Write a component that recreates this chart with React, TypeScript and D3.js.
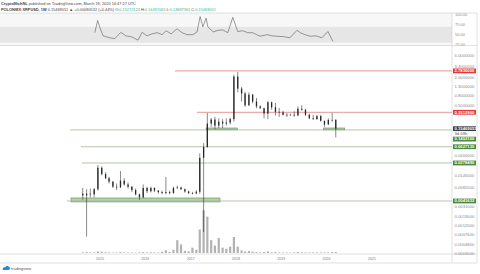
import React from "react";
import * as d3 from "d3";

// ---------- data ----------
const months = [
  "2014-08","2014-09","2014-10","2014-11","2014-12",
  "2015-01","2015-02","2015-03","2015-04","2015-05","2015-06","2015-07","2015-08","2015-09","2015-10","2015-11","2015-12",
  "2016-01","2016-02","2016-03","2016-04","2016-05","2016-06","2016-07","2016-08","2016-09","2016-10","2016-11","2016-12",
  "2017-01","2017-02","2017-03","2017-04","2017-05","2017-06","2017-07","2017-08","2017-09","2017-10","2017-11","2017-12",
  "2018-01","2018-02","2018-03","2018-04","2018-05","2018-06","2018-07","2018-08","2018-09","2018-10","2018-11","2018-12",
  "2019-01","2019-02","2019-03","2019-04","2019-05","2019-06","2019-07","2019-08","2019-09","2019-10","2019-11","2019-12",
  "2020-01","2020-02","2020-03",
];
const opens = [
  0.0060,0.0055,0.0060,0.0058,0.0075,
  0.0220,0.0160,0.0130,0.0110,0.0085,0.0082,0.0115,0.0095,0.0085,0.0072,0.0058,0.0050,
  0.0080,0.0068,0.0080,0.0070,0.0065,0.0062,0.0065,0.0062,0.0080,0.0082,0.0075,0.0067,
  0.0062,0.0061,0.0066,0.0360,0.0620,0.2000,0.2450,0.1800,0.2200,0.2000,0.2100,0.2500,
  2.1000,1.1500,0.9000,0.5000,0.8500,0.6000,0.4700,0.4300,0.3300,0.5800,0.4500,0.3600,
  0.3500,0.3100,0.3100,0.3100,0.3000,0.4200,0.4000,0.3100,0.2600,0.2500,0.2900,0.2300,
  0.1900,0.2400,0.2400,
];
const highs = [
  0.0080,0.0075,0.0078,0.0080,0.0252,
  0.0235,0.0175,0.0140,0.0112,0.0100,0.0186,0.0130,0.0105,0.0088,0.0078,0.0060,0.0095,
  0.0085,0.0085,0.0082,0.0072,0.0070,0.0138,0.0070,0.0085,0.0090,0.0085,0.0078,0.0070,
  0.0066,0.0072,0.0450,0.0750,0.3390,0.2640,0.2800,0.2600,0.2500,0.2600,0.2700,2.3000,
  2.6500,1.2500,0.9800,0.9500,0.8800,0.7200,0.5000,0.4400,0.6200,0.6000,0.5600,0.4400,
  0.3800,0.3400,0.3300,0.3700,0.4700,0.5000,0.4200,0.3300,0.3100,0.3100,0.3100,0.2300,
  0.2600,0.3400,0.2500,
];
const lows = [
  0.0045,0.0007,0.0050,0.0050,0.0070,
  0.0150,0.0125,0.0100,0.0080,0.0072,0.0080,0.0090,0.0078,0.0065,0.0055,0.0044,0.0048,
  0.0062,0.0064,0.0065,0.0060,0.0058,0.0058,0.0058,0.0060,0.0075,0.0072,0.0063,0.0059,
  0.0058,0.0058,0.0060,0.00088,0.0600,0.1680,0.1500,0.1600,0.1600,0.1800,0.1900,0.2200,
  0.9500,0.6000,0.4600,0.4800,0.5500,0.4300,0.4200,0.2600,0.2500,0.4000,0.3000,0.2800,
  0.3000,0.2800,0.3000,0.2800,0.2900,0.3800,0.2900,0.2500,0.2400,0.2400,0.2200,0.1700,
  0.1900,0.2200,0.1000,
];
const closes = [
  0.0055,0.0060,0.0058,0.0075,0.0220,
  0.0160,0.0130,0.0110,0.0085,0.0082,0.0115,0.0095,0.0085,0.0072,0.0058,0.0050,0.0080,
  0.0068,0.0080,0.0070,0.0065,0.0062,0.0065,0.0062,0.0080,0.0082,0.0075,0.0067,0.0062,
  0.0061,0.0066,0.0360,0.0620,0.2000,0.2450,0.1800,0.2200,0.2000,0.2100,0.2500,2.1000,
  1.1500,0.9000,0.5000,0.8500,0.6000,0.4700,0.4300,0.3300,0.5800,0.4500,0.3600,0.3500,
  0.3100,0.3100,0.3100,0.3000,0.4200,0.4000,0.3100,0.2600,0.2500,0.2900,0.2300,0.1900,
  0.2400,0.2400,0.15469051,
];
const volumes = [
  0.6,0.8,0.5,0.5,1.5,
  1.2,0.6,0.5,0.4,0.4,0.8,0.5,0.4,0.4,0.4,0.5,0.8,
  0.5,0.6,0.5,0.5,1.2,2.5,1.0,3,12,8,2,1.5,
  5,3,22,40,34,12,7,14,5,4,6,15,
  6,2.5,1.5,1.8,1.2,0.8,0.6,0.9,1.5,0.6,0.8,0.6,
  0.4,0.4,0.4,0.5,0.9,0.6,0.5,0.5,0.5,0.5,0.5,0.5,
  0.6,0.8,0.9,
];

const rsiDates = [
  "2014-11-20","2014-12-13","2015-01-01","2015-01-26","2015-03-22","2015-05-01","2015-06-18","2015-07-28",
  "2015-09-17","2015-11-03","2015-12-06","2016-01-15","2016-02-24","2016-04-05","2016-05-15","2016-06-17",
  "2016-07-27","2016-09-13","2016-10-23","2016-12-02","2017-01-19","2017-02-21","2017-03-18","2017-04-09",
  "2017-05-05","2017-05-19","2017-07-02","2017-08-08","2017-09-17","2017-10-27","2017-12-06","2018-01-15",
  "2018-02-24","2018-04-05","2018-05-15","2018-06-17","2018-07-13","2018-09-09","2018-10-19","2018-11-24",
  "2019-01-19","2019-03-11","2019-05-08","2019-06-03","2019-07-09","2019-08-22","2019-10-09","2019-11-24",
  "2020-01-12","2020-02-21",
];
const rsiValues = [
  55,86,67,47,42,40,56,47,
  44,36,56,47,52,55,50,60,
  52,65,55,50,50,57,96,70,
  92,70,57,61,62,55,94,58,
  60,55,55,50,46,50,47,46,
  45,42,61,55,50,46,47,42,
  58,33,
];
const rsiTicks = [100, 75, 50, 25];
const rsiBand = [30, 70];

const priceTicks = [6.0, 3.4, 2.0, 1.3, 0.8, 0.5, 0.3, 0.18, 0.105, 0.065, 0.04, 0.025, 0.0145, 0.0082, 0.0048, 0.0031, 0.0019, 0.0012, 0.00076, 0.00048, 0.0003];
const yearTicks = ["2015", "2016", "2017", "2018", "2019", "2020", "2021"];

const levelValues = [2.7836, 0.35129, 0.14521, 0.062713, 0.027849, 0.0041632];
const levelStarts = ["2016-08-27", "2017-02-21", "2014-05-05", "2014-08-01", "2014-08-08", "2014-04-08"];
const levelKinds = ["red", "red", "green", "green", "green", "green"];

const zoneStarts = ["2014-05-12", "2017-05-05", "2019-12-08"];
const zoneEnds = ["2017-08-25", "2018-01-12", "2020-05-26"];
const zoneLows = [0.00397, 0.1465, 0.1465];
const zoneHighs = [0.00484, 0.1602, 0.1602];

const lastPrice = 0.15469051;
const countdown = "3d 09h";

// ---------- layout ----------
const W = 480, H = 274;
const PLOT_L = 0, PLOT_R = 452, AXIS_R = 477;
const RSI_T = 13, RSI_B = 45.5;
const MAIN_T = 46, MAIN_B = 254;
const TIME_B = 263;
const FONT = "'Liberation Sans', Arial, sans-serif";

const parse = d3.timeParse("%Y-%m-%d");

export default function App() {
  const x = d3.scaleTime().domain([parse("2015-01-01")!, parse("2021-01-01")!]).range([100, 372]);
  const y = d3.scaleLog().domain([0.000294, 9.67]).range([MAIN_B, MAIN_T]);
  const yR = d3.scaleLinear().domain([25, 100]).range([44.5, 15]);
  const yV = d3.scaleLinear().domain([0, 44]).range([MAIN_B - 1, MAIN_T + 160]);

  const mDates = months.map((m) => parse(m + "-15")!);
  const rsiLine = d3
    .line<number>()
    .x((_, i) => x(parse(rsiDates[i])!))
    .y((v) => yR(v))(rsiValues);

  type Lab = { y: number; text: string; bg: string; fg: string };
  const labs: Lab[] = [];
  levelValues.forEach((v, i) => {
    labs.push({ y: y(v), text: v.toFixed(7), bg: levelKinds[i] === "red" ? "#e0383b" : "#4b8a3e", fg: "#fff" });
  });
  labs.push({ y: y(lastPrice), text: lastPrice.toFixed(8), bg: "#3a3d42", fg: "#fff" });
  labs.push({ y: y(lastPrice) + 0.01, text: countdown, bg: "#ffffff", fg: "#555" });
  labs.sort((a, b) => a.y - b.y);
  const LH = 5.2;
  for (let i = 1; i < labs.length; i++) {
    if (labs[i].y < labs[i - 1].y + LH) labs[i].y = labs[i - 1].y + LH;
  }
  const visibleTicks = priceTicks.filter((t) => labs.every((l) => Math.abs(l.y - y(t)) > 4));

  return (
    <svg width={W} height={H} style={{ position: "absolute", left: 0, top: 0, background: "#fff" }} fontFamily={FONT}>
      <defs>
        <clipPath id="plotClip">
          <rect x={PLOT_L} y={MAIN_T} width={PLOT_R - PLOT_L} height={MAIN_B - MAIN_T} />
        </clipPath>
        <clipPath id="rsiClip">
          <rect x={PLOT_L} y={RSI_T} width={PLOT_R - PLOT_L} height={RSI_B - RSI_T} />
        </clipPath>
      </defs>
      <rect width={W} height={H} fill="#fff" />

      {/* header */}
      <text x={1} y={5} fontSize={3.9} fill="#444">
        <tspan fontWeight="bold">CryptoMichNL</tspan> published on TradingView.com, March 19, 2020 14:47:27 UTC
      </text>
      <text x={1} y={11} fontSize={3.9} fill="#444">
        <tspan fontWeight="bold">POLONIEX:XRPUSD, 1W</tspan>
        <tspan> 0.15469051 ▲ +0.00080532 (+0.44%) </tspan>
        <tspan fill="#444">O:</tspan><tspan fill="#3fae8c">0.15272123 </tspan>
        <tspan fill="#444">H:</tspan><tspan fill="#3fae8c">0.16437065 </tspan>
        <tspan fill="#444">L:</tspan><tspan fill="#3fae8c">0.13697361 </tspan>
        <tspan fill="#444">C:</tspan><tspan fill="#3fae8c">0.15469051</tspan>
      </text>

      {/* RSI panel */}
      <rect x={PLOT_L} y={RSI_T} width={PLOT_R - PLOT_L} height={RSI_B - RSI_T} fill="#f7f7f7" />
      <rect x={PLOT_L} y={yR(rsiBand[1])} width={PLOT_R - PLOT_L} height={yR(rsiBand[0]) - yR(rsiBand[1])} fill="#e6e6e6" />
      <path d={rsiLine || ""} fill="none" stroke="#5a5a5a" strokeWidth={0.6} clipPath="url(#rsiClip)" />
      {rsiTicks.map((t) => (
        <text key={t} x={PLOT_R + 3} y={yR(t) + 1.4} fontSize={4} fill="#8a8a8a">
          {t.toFixed(2)}
        </text>
      ))}

      {/* main panel */}
      <g clipPath="url(#plotClip)">
        {volumes.map((v, i) => (
          <rect key={"v" + i} x={x(mDates[i]) - 1.1} width={2.2} y={yV(v)} height={yV(0) - yV(v)} fill="#b2b2b2" />
        ))}
        {zoneStarts.map((s, i) => (
          <rect
            key={"z" + i}
            x={x(parse(s)!)}
            width={x(parse(zoneEnds[i])!) - x(parse(s)!)}
            y={y(zoneHighs[i])}
            height={y(zoneLows[i]) - y(zoneHighs[i])}
            fill="#a9c7a0"
            fillOpacity={0.85}
            stroke="#5f8f55"
            strokeWidth={0.6}
          />
        ))}
        {levelValues.map((v, i) => (
          <line
            key={"l" + i}
            x1={x(parse(levelStarts[i])!)}
            x2={PLOT_R}
            y1={y(v)}
            y2={y(v)}
            stroke={levelKinds[i] === "red" ? "#e07b78" : "#9dbb91"}
            strokeWidth={0.8}
          />
        ))}
        {mDates.map((d, i) => {
          const cx = x(d);
          const top = y(Math.max(opens[i], closes[i]));
          const bot = y(Math.min(opens[i], closes[i]));
          return (
            <g key={"c" + i}>
              <line x1={cx} x2={cx} y1={y(highs[i])} y2={y(lows[i])} stroke="#262626" strokeWidth={0.55} />
              <rect x={cx - 0.65} width={1.3} y={top} height={Math.max(0.6, bot - top)} fill="#262626" />
            </g>
          );
        })}
      </g>

      {/* frames */}
      <line x1={0} x2={AXIS_R} y1={RSI_T} y2={RSI_T} stroke="#cfcfcf" strokeWidth={0.6} />
      <line x1={0} x2={AXIS_R} y1={RSI_B} y2={RSI_B} stroke="#cfcfcf" strokeWidth={0.6} />
      <line x1={0} x2={AXIS_R} y1={MAIN_B} y2={MAIN_B} stroke="#cfcfcf" strokeWidth={0.6} />
      <line x1={0} x2={AXIS_R} y1={TIME_B} y2={TIME_B} stroke="#cfcfcf" strokeWidth={0.6} />
      <line x1={PLOT_R} x2={PLOT_R} y1={RSI_T} y2={TIME_B} stroke="#cfcfcf" strokeWidth={0.6} />
      <line x1={AXIS_R} x2={AXIS_R} y1={RSI_T} y2={TIME_B} stroke="#cfcfcf" strokeWidth={0.6} />

      {/* price axis */}
      {visibleTicks.map((t) => (
        <text key={"t" + t} x={PLOT_R + 2.5} y={y(t) + 1.4} fontSize={4.2} fill="#8a8a8a">
          {t.toFixed(7)}
        </text>
      ))}
      {labs.map((l, i) => (
        <g key={"lab" + i}>
          <rect x={PLOT_R + 1} y={l.y - LH / 2 + 0.2} width={AXIS_R - PLOT_R - 2} height={LH - 0.4} fill={l.bg} />
          <text x={PLOT_R + 2.5} y={l.y + 1.4} fontSize={4.2} fill={l.fg} fontWeight={l.bg === "#ffffff" ? "normal" : "bold"}>
            {l.text}
          </text>
        </g>
      ))}

      {/* time axis */}
      {yearTicks.map((t) => (
        <text key={t} x={x(parse(t + "-01-01")!)} y={260} fontSize={3.6} fill="#777" textAnchor="middle">
          {t}
        </text>
      ))}

      {/* logo */}
      <path d="M2.5,270 q0,-3 3,-3 q1,-2 3,-0.5 q1.5,0 1.5,1.8 q0,1.7 -1.5,1.7 z" fill="#2f87d8" />
      <text x={11} y={270} fontSize={4} fill="#555">tradingview</text>
    </svg>
  );
}
